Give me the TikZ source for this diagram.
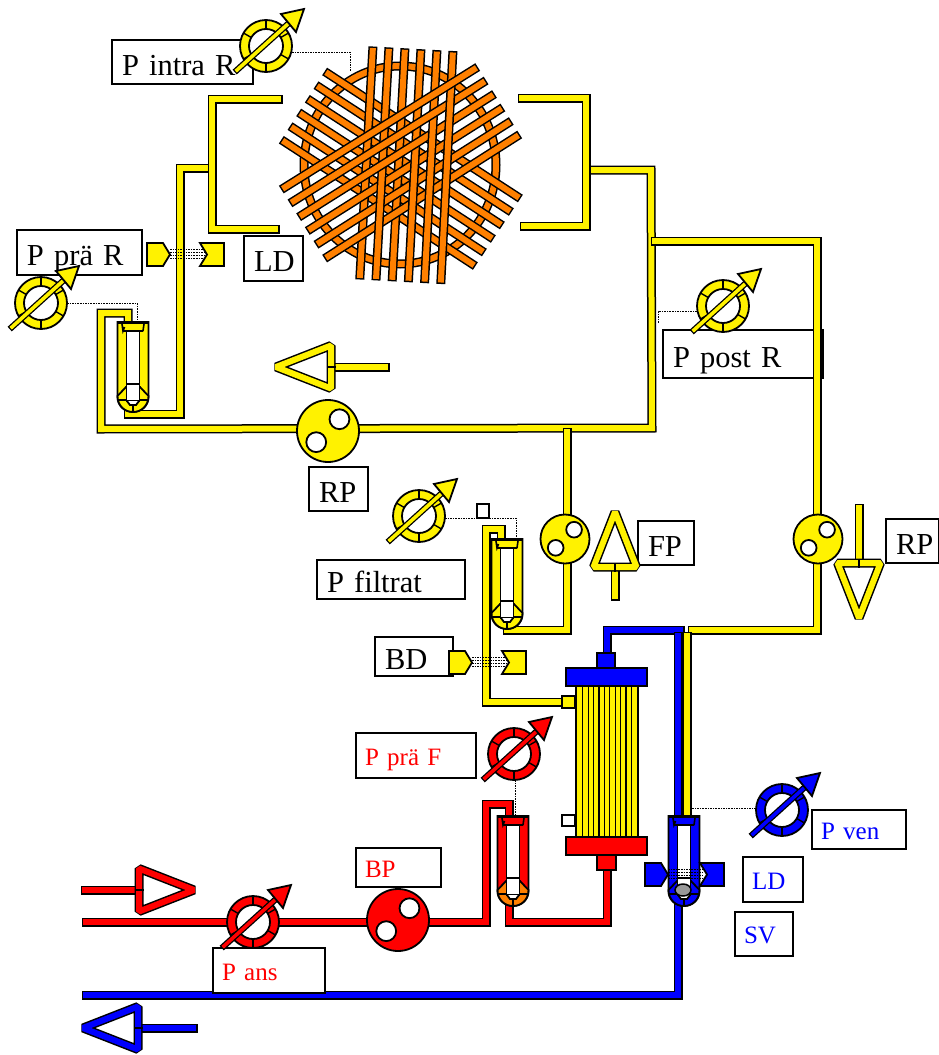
\documentclass[tikz,border=0pt]{standalone}
\usepackage{fontspec}
\setmainfont{Liberation Serif}
\usetikzlibrary{calc}
\definecolor{fibreorange}{RGB}{255,128,0}
\tikzset{
    tube/.style={draw=black,line width=1.5,double=#1,double distance=6,line cap=rect,line join=miter},
    thin tube/.style={draw=black,line width=1.3,double=#1,double distance=3.6,line cap=rect,line join=miter},
    fibre/.style={draw=black,line width=1.5,double=fibreorange,double distance=6,line cap=rect},
    part/.style={draw=black,line width=1.8,fill=#1,line join=miter},
    lead/.style={draw=black,line width=.7,dash pattern=on 1.6pt off 1pt},
    lbl/.style={draw=black,line width=1.5,fill=white,anchor=north west,outer sep=0pt,inner xsep=10pt,inner ysep=0pt,
        align=left,font=\fontsize{30.5}{31}\selectfont,text height=27pt,text depth=1pt},
    lblsmall/.style={draw=black,line width=1.5,fill=white,anchor=north west,outer sep=0pt,inner xsep=9pt,inner ysep=0pt,
        align=left,font=\fontsize{25}{26}\selectfont,text height=20pt,text depth=1pt,text=#1},
}
\newcommand{\gaugeicon}[3]{
    \begin{scope}[shift={(#2)}]
        \coordinate (#1) at (0,0);
        \draw[part=#3] (0,0) circle (26);
        \draw[part=white] (0,0) circle (17);
        \foreach \a in {30,90,150,210,270,330}
            \draw[line width=1.4] (\a:17) -- (\a:26);
        \draw[thin tube=#3] (-29,24) -- (23,-23);
        \draw[part=#3] (15,-32) -- (38,-37) -- (30,-14) -- cycle;
    \end{scope}
}
\newcommand{\pumpicon}[4]{
    \begin{scope}[shift={(#2)},scale=#3]
        \coordinate (#1) at (0,0);
        \draw[part=#4] (0,0) circle (1);
        \draw[part=white] (.37,-.38) circle (.32);
        \draw[part=white] (-.38,.36) circle (.32);
    \end{scope}
}
\newcommand{\wedgeicon}[5]{
    \begin{scope}[shift={(#2)},rotate=#3]
        \coordinate (#1) at (0,0);
        \draw[tube=#5] (-3,0) -- (-#4+4,0);
        \draw[tube=#5,line join=bevel] (0,-21.5) -- (55,0) -- (0,21.5) -- cycle;
        \draw[line width=1.4] (-4.5,0) -- (4.5,0);
    \end{scope}
}
\newcommand{\chamberunit}[4]{
    \begin{scope}[shift={(#2)}]
        \coordinate (#1) at (0,0);
        \draw[part=#3] (-15.5,0) -- (-15.5,75) .. controls (-15.5,84) and (-8,90) .. (0,90)
            .. controls (8,90) and (15.5,84) .. (15.5,75) -- (15.5,0) -- cycle;
        \draw[part=#4] (-15.5,74) -- (-7,65) -- (7,65) -- (15.5,74) .. controls (15.5,84) and (8,90) .. (0,90)
            .. controls (-8,90) and (-15.5,84) .. (-15.5,74) -- cycle;
        \draw[part=white] (-6.5,9) rectangle (6.5,79);
        \draw[line width=1.4] (-6.5,62) -- (6.5,62);
        \draw[part=white] (-6,79) -- (-3,83) -- (3,83) -- (6,79);
        \draw[line width=1.4] (-15.5,78) -- (-6.5,78) (6.5,78) -- (15.5,78) (0,83) -- (0,90);
        \draw[line width=3] (-16,0) -- (16,0);
        \draw[line width=1.6] (-10,9) -- (10,9) (-11,2) -- (-10,9) -- (-8.5,5) (11,2) -- (10,9);
    \end{scope}
}
\newcommand{\sensorpair}[4]{
    \begin{scope}[shift={(#2)}]
        \coordinate (#1) at (0,0);
        \draw[part=#4] (0,0) -- (16,0) -- (23,11.5) -- (16,23) -- (0,23) -- cycle;
        \draw[part=#4] (#3,0) -- (#3+24,0) -- (#3+24,23) -- (#3,23) -- (#3+7,11.5) -- cycle;
        \foreach \y in {6,9,12,15}
            \draw[lead] (23,\y) -- (#3+4,\y);
    \end{scope}
}
\newcommand{\fibreA}[1]{\draw[fibre] ({372.7+16*#1},{51+.9*#1}) -- ({360+16.2*#1},{275+.9*#1});}
\newcommand{\fibreB}[1]{\draw[fibre] ({285.1+8.66*#1},{187.2+13.8*#1}) -- ({473.9+8.4*#1},{69.4+13.5*#1});}
\newcommand{\fibreC}[1]{\draw[fibre] ({328.4-8.66*#1},{73.9+13.66*#1}) -- ({516.6-9*#1},{196.1+13.5*#1});}
\begin{document}
\begin{tikzpicture}[x=1pt,y=-1pt]
    \useasboundingbox (0,0) rectangle (938,1055);

    \draw[fibre] (400,165) ellipse (96 and 99);
    \foreach \i in {0,...,5} {
        \fibreC{\i}
    }
    \fibreA{0}
    \fibreA{2}
    \fibreB{5}
    \fibreB{4}
    \fibreB{3}
    \fibreA{1}
    \fibreA{3}
    \fibreB{2}
    \fibreA{4}
    \fibreB{1}
    \fibreA{5}
    \fibreB{0}

    \node[lbl,text width=121pt,minimum height=44pt] (labelIntra) at (112,40) {P intra R};
    \node[lbl,text width=105pt,minimum height=45pt] (labelPre) at (17,230) {P prä R};
    \node[lbl,text width=39pt,minimum height=45pt] (labelLD) at (244,236) {LD};
    \node[lbl,text width=39pt,minimum height=44pt] (labelRP) at (309,467) {RP};
    \node[lbl,text width=140pt,minimum height=48pt] (labelPost) at (663,330) {P post R};
    \node[lbl,text width=128pt,minimum height=39pt] (labelFiltrat) at (317,560) {P filtrat};
    \node[lbl,text width=58pt,minimum height=39pt] (labelBD) at (375,637) {BD};
    \node[lbl,text width=36pt,minimum height=44pt] (labelFP) at (638,521) {FP};
    \node[lbl,text width=33pt,minimum height=44pt] (labelRPright) at (886,519) {RP};
    \node[lblsmall=red,text width=102pt,minimum height=45pt] (labelPreF) at (356,733) {P prä F};
    \node[lblsmall=red,text width=67pt,minimum height=39pt] (labelBP) at (356,848) {BP};
    \node[lblsmall=blue,text width=76pt,minimum height=39pt] (labelVen) at (812,810) {P ven};
    \node[lblsmall=blue,text width=42pt,minimum height=45pt] (labelLDblue) at (743,857) {LD};
    \node[lblsmall=blue,text width=40pt,minimum height=44pt] (labelSV) at (735,912) {SV};

    \coordinate (inRight) at (655,241);
    \coordinate (cornerRight) at (817,630);
    \coordinate (cornerMain) at (652,428);
    \coordinate (portFiltrat) at (558,702);

    \draw[tube=yellow] (207,168) -- (180,168) -- (180,414) -- (128,414);
    \draw[tube=yellow] (278,99) -- (212,99) -- (212,229) -- (275,229);
    \draw[tube=yellow] (128,318) -- (128,313) -- (101,313) -- (101,429) -- (cornerMain) -- (651,170) -- (592,170);
    \draw[tube=yellow] (522,98) -- (586,98) -- (586,226) -- (524,226);
    \draw[tube=yellow] (inRight) -- (817,241) -- (cornerRight) -- (692,630);
    \draw[tube=yellow] (567,432) -- (567,630) -- (507,630) -- (507,622);
    \draw[tube=yellow] (501,536) -- (501,529) -- (486,529) -- (486,702) -- (portFiltrat);

    \draw[tube=blue] (607,650) -- (607,630) -- (680,630);
    \draw[tube=yellow] (687,636) -- (687,812);
    \draw[tube=blue] (678,636) -- (678,812);
    \draw[tube=blue] (678,900) -- (678,995) -- (86,995);
    \draw[tube=red] (509,812) -- (509,804) -- (486,804) -- (486,922) -- (86,922);
    \draw[tube=red] (607,872) -- (607,922) -- (509,922) -- (509,900);

    \node[lblsmall=red,text width=94pt,minimum height=45pt] (labelAns) at (213,948) {P ans};

    \draw[part=white] (562,815) rectangle (575,826);
    \draw[part=white] (477,504) rectangle (489,518);
    \draw[part=yellow] (562,696) rectangle (575,708);
    \draw[part=yellow] (576,686) rectangle (638,837);
    \foreach \i in {0,...,9}
        \draw[line width=1.2] ({582.7+5.4*\i},686) -- ({582.7+5.4*\i},837);
    \draw[part=blue] (597,653) rectangle (615,668);
    \draw[part=blue] (566,668) rectangle (647,686);
    \draw[part=red] (566,837) rectangle (647,855);
    \draw[part=red] (597,855) rectangle (616,870);

    \chamberunit{chamberPre}{133,322}{yellow}{yellow}
    \chamberunit{chamberFiltrat}{507,539}{yellow}{yellow}
    \chamberunit{chamberPreF}{513,816}{red}{fibreorange}
    \chamberunit{chamberVen}{684,816}{blue}{blue}
    \draw[part=gray!80,line width=1.5] (683,890) ellipse (8 and 6);

    \sensorpair{sensorLD}{147,243}{53}{yellow}
    \sensorpair{sensorBD}{449,651}{53}{yellow}
    \sensorpair{sensorVen}{645,863}{55}{blue}

    \gaugeicon{gaugeIntra}{266,46}{yellow}
    \gaugeicon{gaugePre}{41,303}{yellow}
    \gaugeicon{gaugePost}{723,306}{yellow}
    \gaugeicon{gaugeFiltrat}{419,516}{yellow}
    \gaugeicon{gaugePreF}{514,754}{red}
    \gaugeicon{gaugeVen}{782,810}{blue}
    \gaugeicon{gaugeAns}{253,922}{red}

    \draw[lead] ($(gaugeIntra)+(26,6)$) -- (350,52) -- (350,72);
    \draw[lead] ($(gaugePre)+(26,0)$) -- (137,303) -- ($(chamberPre)+(4,0)$);
    \draw[lead] ($(gaugePost)+(-26,5)$) -- (658,311) -- (658,324);
    \draw[lead] ($(gaugeFiltrat)+(26,2)$) -- (516,518) -- ($(chamberFiltrat)+(9,0)$);
    \draw[lead] ($(gaugePreF)+(1,26)$) -- ($(chamberPreF)+(2,0)$);
    \draw[lead] ($(gaugeVen)+(-26,-2)$) -- ($(chamberVen)+(8,-8)$);

    \pumpicon{pumpRP}{328,431}{31}{yellow}
    \pumpicon{pumpFP}{565,539}{24.5}{yellow}
    \pumpicon{pumpRPright}{818,539}{24.5}{yellow}
    \pumpicon{pumpBP}{398,920}{31}{red}

    \wedgeicon{wedgeRP}{331,367}{180}{58}{yellow}
    \wedgeicon{wedgeFP}{615,567}{90}{33}{yellow}
    \wedgeicon{wedgeRPright}{859,563}{-90}{59}{yellow}
    \wedgeicon{wedgeBP}{139,890}{0}{58}{red}
    \wedgeicon{wedgeVen}{138,1028}{180}{59}{blue}
\end{tikzpicture}
\end{document}
